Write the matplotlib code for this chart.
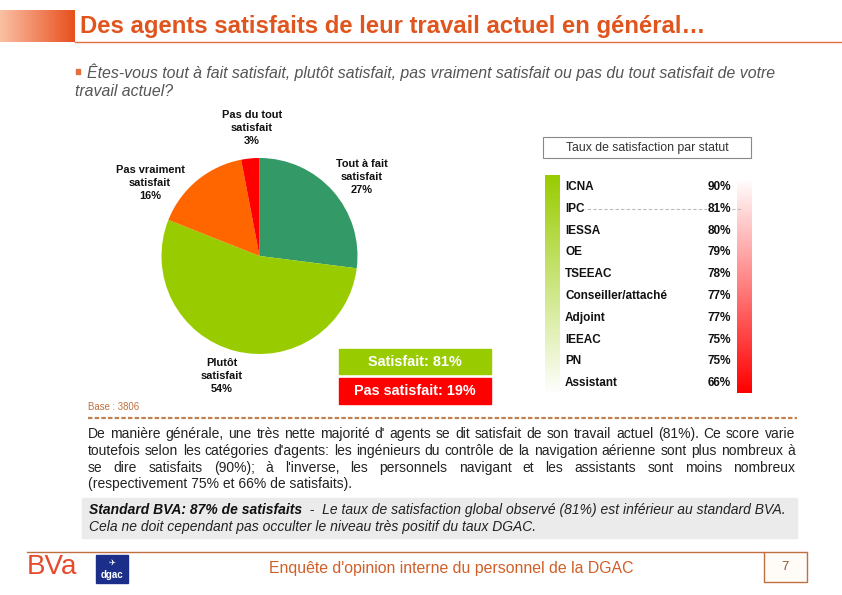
import matplotlib.pyplot as plt
import matplotlib.colors as mcolors
from matplotlib.patches import Rectangle
import numpy as np

plt.rcParams['font.family'] = ['Liberation Sans', 'DejaVu Sans']

# Données du camembert
pie_labels = ['Tout à fait\nsatisfait', 'Plutôt\nsatisfait', 'Pas vraiment\nsatisfait', 'Pas du tout\nsatisfait']
pie_values = [27, 54, 16, 3]
pie_colors = ['#339966', '#99CC00', '#FF6600', '#FF0000']

# Taux de satisfaction par statut
statuts = ['ICNA', 'IPC', 'IESSA', 'OE', 'TSEEAC', 'Conseiller/attaché',
           'Adjoint', 'IEEAC', 'PN', 'Assistant']
taux = [90, 81, 80, 79, 78, 77, 77, 75, 75, 66]

satisfait_total = 81
pas_satisfait_total = 19
base = 3806

paragraphe = [
    "De manière générale, une très nette majorité d' agents se dit satisfait de son travail actuel (81%). Ce score varie",
    "toutefois selon les catégories d'agents: les ingénieurs du contrôle de la navigation aérienne sont plus nombreux à",
    "se dire satisfaits (90%); à l'inverse, les personnels navigant et les assistants sont moins nombreux",
    "(respectivement 75% et 66% de satisfaits).",
]

W, H = 842, 595
fig = plt.figure(figsize=(W / 100, H / 100), dpi=100)
ax = fig.add_axes([0, 0, 1, 1])
ax.set_xlim(0, W)
ax.set_ylim(H, 0)
ax.axis('off')
renderer = fig.canvas.get_renderer()


def largeur(txt, **kw):
    t = ax.text(0, 0, txt, **kw)
    w = t.get_window_extent(renderer).width
    t.remove()
    return w


def ligne_justifiee(txt, x0, x1, y, **kw):
    mots = txt.split()
    ws = [largeur(m, **kw) for m in mots]
    gap = (x1 - x0 - sum(ws)) / (len(mots) - 1)
    x = x0
    for m, w in zip(mots, ws):
        ax.text(x, y, m, va='center', ha='left', **kw)
        x += w + gap


# En-tête
grad = np.linspace(0, 1, 100).reshape(1, -1)
cmap_head = mcolors.LinearSegmentedColormap.from_list('h', ['#FAC0A4', '#E8501E'])
ax.imshow(grad, extent=(0, 75, 42, 10), cmap=cmap_head, aspect='auto')
ax.text(80, 27, "Des agents satisfaits de leur travail actuel en général…", fontsize=17.2,
        fontweight='bold', color='#E0541E', va='center')
ax.plot([75, 842], [42, 42], color='#E07040', lw=1)

# Question
ax.add_patch(Rectangle((76, 69), 3.5, 4.5, color='#E07040'))
ax.text(87, 72, "Êtes-vous tout à fait satisfait, plutôt satisfait, pas vraiment satisfait ou pas du tout satisfait de votre",
        fontsize=11.4, style='italic', color='#555555', va='center')
ax.text(75, 92, "travail actuel?", fontsize=11.4, style='italic', color='#555555', va='center')

# Camembert
cx, cy, r = 259.5, 256, 98
pax = fig.add_axes([(cx - r) / W, (H - cy - r) / H, 2 * r / W, 2 * r / H])
pax.pie(pie_values, colors=pie_colors, startangle=90, counterclock=False,
        wedgeprops=dict(linewidth=0))
pax.set_xlim(-1, 1)
pax.set_ylim(-1, 1)

label_xy = [(362, 177), (222, 376), (150, 183), (252, 128)]
for lab, v, (lx, ly) in zip(pie_labels, pie_values, label_xy):
    ax.text(lx, ly, f"{lab}\n{v}%", fontsize=7.9, fontweight='bold', color='#111111',
            ha='center', va='center', linespacing=1.4)

# Encadrés satisfait / pas satisfait
ax.add_patch(Rectangle((339, 349), 152, 25, color='#99CC00'))
ax.text(415, 361.5, f"Satisfait: {satisfait_total}%", fontsize=10.4, fontweight='bold',
        color='white', ha='center', va='center')
ax.add_patch(Rectangle((339, 378), 152, 26, color='#FF0000'))
ax.text(415, 391, f"Pas satisfait: {pas_satisfait_total}%", fontsize=10.4, fontweight='bold',
        color='white', ha='center', va='center')

ax.text(88, 407, f"Base : {base}", fontsize=6.9, color='#C0703A', va='center')
ax.plot([88, 797], [418, 418], color='#C08050', lw=1.6, dashes=(2, 1))

# Panneau par statut
ax.add_patch(Rectangle((543, 137), 208, 21, fill=False, edgecolor='#888888', lw=0.8))
ax.text(647, 147.5, "Taux de satisfaction par statut", fontsize=8.8, color='#333333',
        ha='center', va='center')

vgrad = np.linspace(0, 1, 200).reshape(-1, 1)
cmap_g = mcolors.LinearSegmentedColormap.from_list('g', ['#99CC00', '#FFFFFF'])
ax.imshow(vgrad, extent=(545, 560, 395, 175), cmap=cmap_g, aspect='auto')
cmap_r = mcolors.LinearSegmentedColormap.from_list('r', ['#FFFFFF', '#FF0000'])
ax.imshow(vgrad, extent=(737, 752, 393, 178), cmap=cmap_r, aspect='auto')
ax.set_xlim(0, W)
ax.set_ylim(H, 0)

y0, dy = 187, 21.8
for i, (s, t) in enumerate(zip(statuts, taux)):
    y = y0 + i * dy
    if t == satisfait_total:
        ax.plot([565, 742], [y, y], color='#BBBBBB', lw=0.8, dashes=(3, 2), zorder=1)
    ax.text(565, y, s, fontsize=8.5, fontweight='bold', color='#111111', va='center', zorder=3,
            bbox=dict(facecolor='white', edgecolor='none', pad=0.5))
    ax.text(731, y, f"{t}%", fontsize=8.5, fontweight='bold', color='#111111', va='center',
            ha='right', zorder=3, bbox=dict(facecolor='white', edgecolor='none', pad=0.5))

# Paragraphe justifié
kw_par = dict(fontsize=10, color='#222222')
for i, l in enumerate(paragraphe):
    y = 434 + i * 16.8
    if i < len(paragraphe) - 1:
        ligne_justifiee(l, 88, 795, y, **kw_par)
    else:
        ax.text(88, y, l, va='center', **kw_par)

# Encadré standard BVA
ax.add_patch(Rectangle((82, 498), 715, 40, color='#EBEBEB'))
gras = "Standard BVA: 87% de satisfaits"
ax.text(89, 510, gras, fontsize=10, fontweight='bold', style='italic', color='#111111', va='center')
wg = largeur(gras, fontsize=10, fontweight='bold', style='italic')
ax.text(89 + wg, 510, "  -  Le taux de satisfaction global observé (81%) est inférieur au standard BVA.",
        fontsize=10, style='italic', color='#222222', va='center')
ax.text(89, 527, "Cela ne doit cependant pas occulter le niveau très positif du taux DGAC.",
        fontsize=10, style='italic', color='#222222', va='center')

# Pied de page
ax.plot([27, 764], [552, 552], color='#C07040', lw=1)
ax.add_patch(Rectangle((764, 552), 43, 30, facecolor='#FFFBF7', edgecolor='#C07040', lw=1))
ax.text(785.5, 567, "7", fontsize=9.5, color='#8B5A3A', ha='center', va='center')
ax.text(451, 568, "Enquête d'opinion interne du personnel de la DGAC", fontsize=11.4,
        color='#D0602A', ha='center', va='center')
ax.text(27, 567, "BVa", fontsize=20, color='#E84A2C', va='center', ha='left')
ax.add_patch(Rectangle((96, 555), 32, 28, color='#1B2F8A'))
ax.text(112, 562, "✈", fontsize=6, color='white', ha='center', va='center', family='DejaVu Sans')
ax.text(112, 575, "dgac", fontsize=7, fontweight='bold', color='white', ha='center', va='center')

fig.savefig('out.png', dpi=100)
